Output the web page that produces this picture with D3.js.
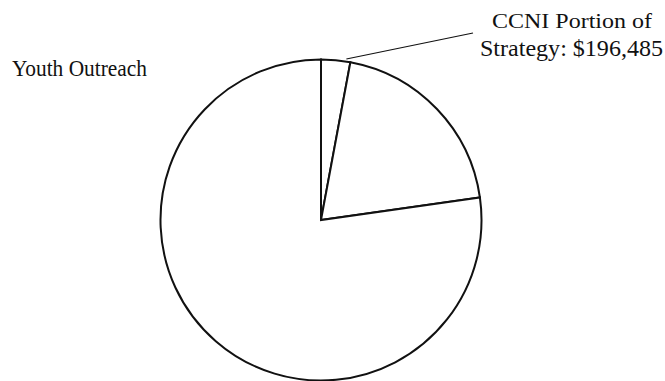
<!DOCTYPE html>
<html>
<head>
<meta charset="utf-8">
<script src="https://cdn.jsdelivr.net/npm/d3@7/dist/d3.min.js"></script>
<style>
  html, body { margin: 0; padding: 0; background: #fff; }
  svg { display: block; }
  text { font-family: "Liberation Serif", "DejaVu Serif", serif; fill: #111; }
</style>
</head>
<body>
<svg id="chart" width="665" height="381"></svg>
<script>
// Budget shares, clockwise from 12 o'clock
const slices = ["CCNI Portion of Strategy", "Other Partners", "Youth Outreach"];
const amounts = [196485, 1330000, 5180000];
const calloutLines = ["CCNI Portion of", "Strategy: $196,485"];
const sideLabel = "Youth Outreach";

const svg = d3.select("#chart");
const cx = 321, cy = 220, radius = 160.5;

const pie = d3.pie().sort(null).value(d => d.value);
const arc = d3.arc().innerRadius(0).outerRadius(radius);

const data = slices.map((name, i) => ({ name, value: amounts[i] }));
const arcs = pie(data);

const g = svg.append("g").attr("transform", `translate(${cx},${cy})`);

g.selectAll("path.slice")
  .data(arcs)
  .join("path")
  .attr("class", "slice")
  .attr("d", arc)
  .attr("fill", "#fff")
  .attr("stroke", "#111")
  .attr("stroke-width", 2)
  .attr("stroke-linejoin", "miter");

// Leader line from the CCNI slice rim to its callout
const ccni = arcs[0];
const rimAngle = ccni.startAngle + (ccni.endAngle - ccni.startAngle) * 0.85;
const rim = [Math.sin(rimAngle) * (radius + 2.5), -Math.cos(rimAngle) * (radius + 2.5)];
g.append("line")
  .attr("x1", rim[0]).attr("y1", rim[1])
  .attr("x2", 473 - cx).attr("y2", 33 - cy)
  .attr("stroke", "#111")
  .attr("stroke-width", 1.2);

// Callout text
const callout = svg.append("g");
callout.append("text")
  .attr("x", 492).attr("y", 28)
  .attr("font-size", 22)
  .attr("textLength", 160)
  .attr("lengthAdjust", "spacingAndGlyphs")
  .text(calloutLines[0]);
callout.append("text")
  .attr("x", 480).attr("y", 56)
  .attr("font-size", 23)
  .attr("textLength", 183)
  .attr("lengthAdjust", "spacingAndGlyphs")
  .text(calloutLines[1]);

svg.append("text")
  .attr("x", 12).attr("y", 76)
  .attr("font-size", 23)
  .attr("textLength", 135)
  .attr("lengthAdjust", "spacingAndGlyphs")
  .text(sideLabel);
</script>
</body>
</html>
